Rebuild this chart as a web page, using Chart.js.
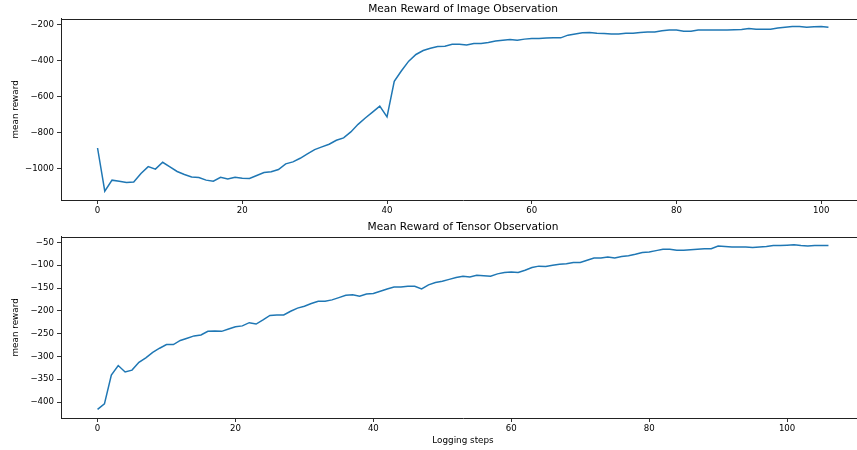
<!DOCTYPE html>
<html>
<head>
<meta charset="utf-8">
<script src="https://cdn.jsdelivr.net/npm/chart.js@4"></script>
<style>
  html, body { margin:0; padding:0; background:#fff; width:857px; height:450px; overflow:hidden; }
  .wrap { position:absolute; left:0; }
</style>
</head>
<body>
<div class="wrap" style="top:0px"><canvas id="c1" width="925" height="220"></canvas></div>
<div class="wrap" style="top:218px"><canvas id="c2" width="925" height="232"></canvas></div>
<script>
// ---- data ----
const imageTitle = "Mean Reward of Image Observation";
const tensorTitle = "Mean Reward of Tensor Observation";
const yLabel = "mean reward";
const xLabel = "Logging steps";

const imageReward = [
  -884, -1123, -1062, -1068, -1075, -1072, -1025, -987, -1001, -963,
  -989, -1014, -1031, -1044, -1047, -1062, -1068, -1046, -1055, -1046,
  -1051, -1053, -1036, -1020, -1016, -1003, -972, -961, -941, -917,
  -893, -878, -863, -841, -828, -795, -753, -718, -685, -652,
  -712, -515, -456, -403, -366, -344, -332, -322, -321, -310,
  -310, -314, -305, -305, -300, -292, -287, -283, -287, -281,
  -277, -277, -275, -274, -274, -259, -252, -246, -244, -248,
  -250, -252, -252, -248, -248, -244, -241, -241, -235, -231,
  -231, -237, -237, -231, -231, -230, -230, -230, -229, -228,
  -222, -226, -226, -226, -220, -215, -211, -211, -215, -213,
  -211, -215
];

const tensorReward = [
  -416, -404, -341, -320, -334, -330, -313, -303, -291, -282,
  -274, -274, -265, -260, -255, -253, -245, -244, -245, -240,
  -235, -233, -226, -229, -220, -210, -209, -209, -201, -194,
  -190, -184, -179, -179, -176, -171, -166, -165, -168, -163,
  -162, -157, -152, -148, -148, -146, -146, -152, -143, -138,
  -135, -131, -127, -124, -126, -122, -123, -124, -119, -116,
  -115, -116, -111, -105, -102, -103, -100, -98, -97, -94,
  -94, -89, -84, -84, -82, -84, -81, -79, -76, -72,
  -71, -68, -65, -65, -67, -67, -66, -65, -64, -64,
  -58, -59, -60, -60, -60, -61, -60, -59, -57, -57,
  -56, -55, -57, -58, -57, -57, -57
];

const imageXTicks = [0, 20, 40, 60, 80, 100];
const imageYTicks = [-1000, -800, -600, -400, -200];
const tensorXTicks = [0, 20, 40, 60, 80, 100];
const tensorYTicks = [-400, -350, -300, -250, -200, -150, -100, -50];

// ---- styling ----
const FONT = "'DejaVu Sans', sans-serif";
const LINE = '#1f77b4';
const INK = '#000';

const frame = {
  id: 'frame',
  afterDraw(chart) {
    const a = chart.chartArea, ctx = chart.ctx;
    ctx.save();
    ctx.strokeStyle = '#222';
    ctx.lineWidth = 1;
    ctx.beginPath();
    ctx.moveTo(a.left, Math.round(a.top) + 0.5);
    ctx.lineTo(a.right, Math.round(a.top) + 0.5);
    ctx.lineTo(a.right, a.bottom);
    ctx.stroke();
    ctx.restore();
  }
};

function makeChart(id, title, values, xTicks, yTicks, xRange, yRange, showXTitle, xHeight) {
  const labels = values.map((_, i) => i);
  return new Chart(document.getElementById(id), {
    type: 'line',
    data: {
      datasets: [{
        data: values.map((v, i) => ({x: labels[i], y: v})),
        borderColor: LINE,
        borderWidth: 1.5,
        pointRadius: 0,
        tension: 0,
        fill: false
      }]
    },
    options: {
      responsive: false,
      animation: false,
      devicePixelRatio: 1,
      layout: { padding: { left: 0, right: 60, top: 0, bottom: 0 } },
      plugins: {
        legend: { display: false },
        tooltip: { enabled: false },
        title: {
          display: true,
          fullSize: false,
          text: title,
          color: INK,
          font: { family: FONT, size: 10.6, weight: 'normal', lineHeight: 1.2 },
          padding: { top: 3, bottom: 3 }
        }
      },
      scales: {
        x: {
          type: 'linear',
          min: xRange[0],
          max: xRange[1],
          afterBuildTicks: s => { s.ticks = xTicks.map(v => ({value: v})); },
          afterFit: s => { s.height = xHeight; },
          ticks: {
            color: INK,
            font: { family: FONT, size: 8.6 },
            padding: 2,
            maxRotation: 0,
            autoSkip: false,
            callback: v => String(v)
          },
          grid: { display: true, drawOnChartArea: false, drawTicks: true, tickLength: 4, color: INK, lineWidth: 0.8 },
          border: { display: true, color: '#222', width: 1 },
          title: {
            display: showXTitle,
            text: xLabel,
            color: INK,
            font: { family: FONT, size: 8.8, lineHeight: 1.2 },
            padding: { top: 0, bottom: 4 }
          }
        },
        y: {
          type: 'linear',
          min: yRange[0],
          max: yRange[1],
          afterBuildTicks: s => { s.ticks = yTicks.map(v => ({value: v})); },
          afterFit: s => { s.width = 61; },
          ticks: {
            color: INK,
            font: { family: FONT, size: 8.6 },
            padding: 3,
            autoSkip: false,
            callback: v => (v < 0 ? '\u2212' + Math.abs(v) : String(v))
          },
          grid: { display: true, drawOnChartArea: false, drawTicks: true, tickLength: 4, color: INK, lineWidth: 0.8 },
          border: { display: true, color: '#222', width: 1 },
          title: {
            display: true,
            text: yLabel,
            color: INK,
            font: { family: FONT, size: 8.8, lineHeight: 1.2 },
            padding: { top: 10, bottom: 0 }
          }
        }
      }
    },
    plugins: [frame]
  });
}

makeChart('c1', imageTitle, imageReward, imageXTicks, imageYTicks, [-5.05, 106.05], [-1172, -168], false, 20);
makeChart('c2', tensorTitle, tensorReward, tensorXTicks, tensorYTicks, [-5.3, 111.3], [-435, -37.5], true, 32);
</script>
</body>
</html>
